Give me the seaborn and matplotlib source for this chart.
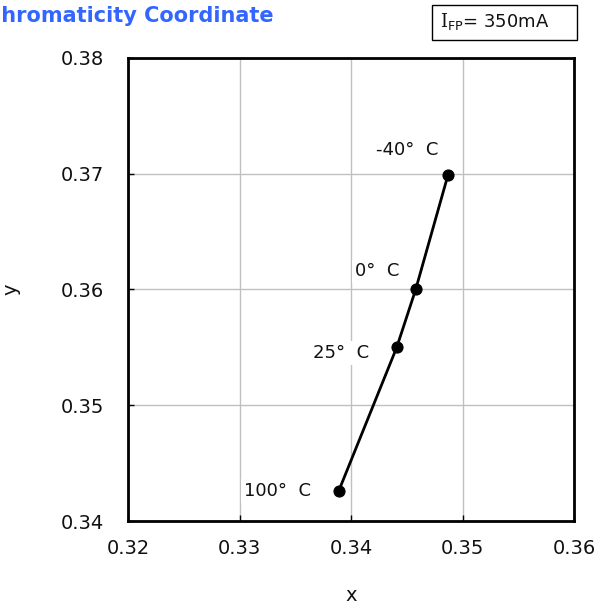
import matplotlib
matplotlib.use('Agg')
import matplotlib.pyplot as plt
import seaborn as sns
import pandas as pd
from matplotlib.patches import Rectangle

# datos
temps = ['-40°  C', '0°  C', '25°  C', '100°  C']
cx = [0.3487, 0.3458, 0.3441, 0.3389]
cy = [0.3699, 0.3600, 0.3550, 0.3426]
xticks = [0.32, 0.33, 0.34, 0.35, 0.36]
yticks = [0.34, 0.35, 0.36, 0.37, 0.38]

sns.set_theme(style='white', rc={'figure.figsize': (5.97, 6.04)})
plt.rcParams['font.family'] = ['DejaVu Sans']
plt.rcParams['mathtext.fontset'] = 'dejavuserif'

df = pd.DataFrame({'x': cx, 'y': cy, 'T': temps})

fig = plt.figure(dpi=100)
ax = fig.add_axes([0.2144, 0.1374, 0.7471, 0.7666])

sns.lineplot(data=df, x='x', y='y', sort=False, color='black', linewidth=2,
             marker='o', markersize=8, markeredgecolor='black', ax=ax, zorder=3)

# etiquetas de temperatura
offsets = [(-7, 18), (-12, 13), (-20, -4), (-20, 0)]
for (t, xx, yy), off in zip(zip(temps, cx, cy), offsets):
    ax.annotate(t, (xx, yy), xytext=off, textcoords='offset points',
                ha='right', va='center', fontsize=13, color='#111111',
                bbox=dict(boxstyle='square,pad=0.15', fc='white', ec='none'),
                zorder=4)

ax.set_xlim(0.32, 0.36)
ax.set_ylim(0.34, 0.38)
ax.set_xticks(xticks)
ax.set_yticks(yticks)
ax.set_xticklabels([f'{v:.2f}' for v in xticks], fontsize=14)
ax.set_yticklabels([f'{v:.2f}' for v in yticks], fontsize=14)
ax.grid(True, color='#c0c0c0', linewidth=1)
ax.tick_params(axis='both', direction='in', length=4, width=1, color='black',
               bottom=True, left=True, labelcolor='#111111')
ax.tick_params(axis='x', pad=13)
ax.tick_params(axis='y', pad=17)
for s in ax.spines.values():
    s.set_color('black')
    s.set_linewidth(2)

ax.set_xlabel('x', fontsize=14, labelpad=20, color='#111111')
ax.set_ylabel('y', fontsize=14, labelpad=29, color='#111111')

# titulo cortado a la izquierda
fig.text(274 / 597, 1 - 16 / 604, 'Chromaticity Coordinate', ha='right', va='center',
         fontsize=15, fontweight='bold', color='#3366ff')

# recuadro de corriente
fig.patches.append(Rectangle((432 / 597, 1 - 40 / 604), 145 / 597, 35 / 604,
                             transform=fig.transFigure, fill=False, ec='black', lw=1))
fig.text(440 / 597, 1 - 22 / 604, r'$\mathrm{I}_{\mathsf{FP}}$= 350mA', ha='left',
         va='center', fontsize=13, color='#111111')

plt.savefig('out.png', dpi=100)
